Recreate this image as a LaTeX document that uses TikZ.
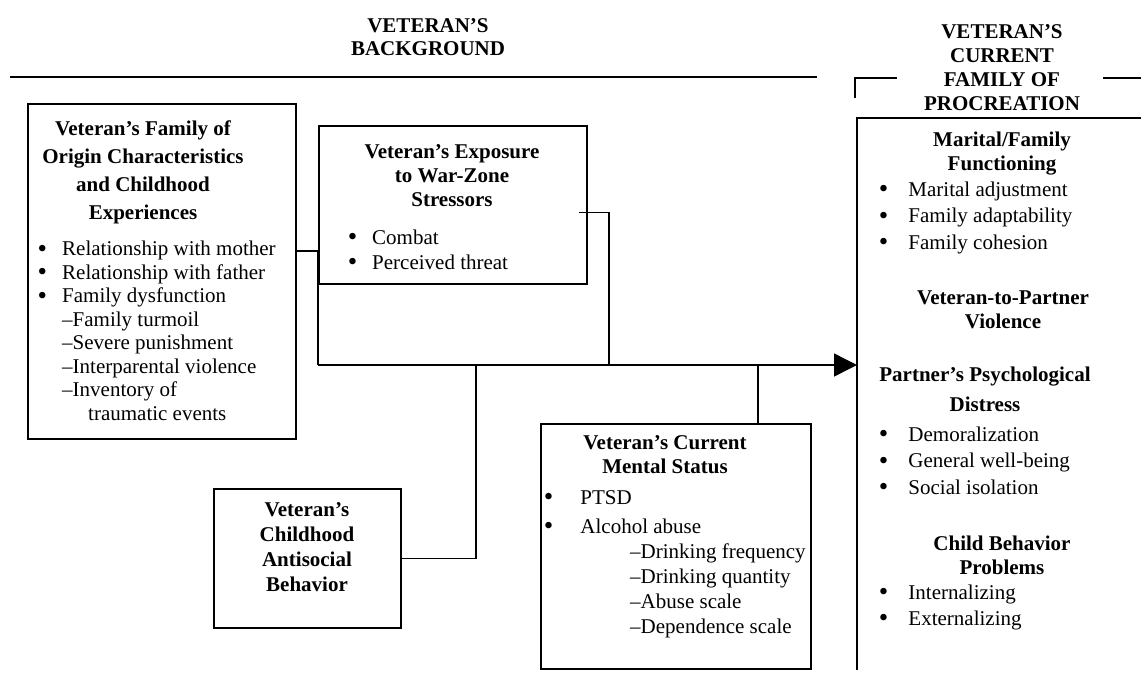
\documentclass[tikz,border=0pt]{standalone}
\usepackage{fontspec}
\setmainfont{Liberation Serif}
\usetikzlibrary{arrows.meta,calc}
\newcommand{\bul}[1][15pt]{\llap{\raisebox{-1.5pt}{\fontsize{27}{27}\selectfont\textbullet}\hspace{#1}}}

\begin{document}
\begin{tikzpicture}[x=1pt, y=-1pt,
    box/.style={draw, line width=1.5pt, inner sep=0pt, anchor=north west},
    ttl/.style={font=\bfseries\fontsize{21}{24}\selectfont, align=center, anchor=base, inner sep=0pt},
    lst/.style={font=\fontsize{21}{24}\selectfont, align=left, anchor=base west, inner sep=0pt},
    link/.style={line width=1.4pt},
    rule/.style={line width=2pt}]
    \useasboundingbox (0,0) rectangle (1141,673);

    % Headings (placed at the baseline of their last line)
    \node[ttl, font=\bfseries\fontsize{21}{23}\selectfont] (bghead) at (428,55) {VETERAN'S\\BACKGROUND};
    \node[ttl, font=\bfseries\fontsize{21}{23.7}\selectfont] (famhead) at (1002,110) {VETERAN'S\\CURRENT\\FAMILY OF\\PROCREATION};
    \draw[rule] (10,77) -- (817,77);
    \draw[rule] (897,78) -- (855,78) -- (855,98);
    \draw[rule] (1103,78) -- (1141,78);

    % Family of origin
    \node[box, minimum width=268pt, minimum height=335pt] (origin) at (27,103) {};
    \node[ttl, font=\bfseries\fontsize{21}{28}\selectfont] (origin-t) at (143,219) {Veteran's Family of\\Origin Characteristics\\and Childhood\\Experiences};
    \node[lst, font=\fontsize{21}{23.5}\selectfont] (origin-l) at (62,420) {\bul Relationship with mother\\\bul Relationship with father\\\bul Family dysfunction\\--Family turmoil\\--Severe punishment\\--Interparental violence\\--Inventory of\\\hspace*{26pt}traumatic events};

    % War-zone exposure
    \node[box, minimum width=268pt, minimum height=158pt] (expo) at (318,125) {};
    \node[ttl] (expo-t) at (452,206) {Veteran's Exposure\\to War-Zone\\Stressors};
    \node[lst, font=\fontsize{21}{25}\selectfont] (expo-l) at (372,269) {\bul Combat\\\bul Perceived threat};

    % Childhood antisocial behavior
    \node[box, minimum width=187pt, minimum height=139pt] (child) at (213,488) {};
    \node[ttl, font=\bfseries\fontsize{21}{25}\selectfont] (child-t) at (307,591) {Veteran's\\Childhood\\Antisocial\\Behavior};

    % Current mental status
    \node[box, minimum width=270pt, minimum height=245pt] (mental) at (540,423) {};
    \node[ttl] (mental-t) at (665,473) {Veteran's Current\\Mental Status};
    \node[lst, font=\fontsize{21}{25}\selectfont] (mental-l) at (575,633) {\bul[22pt] PTSD\\[4pt]\bul[22pt] Alcohol abuse\\\hspace*{55pt}--Drinking frequency\\\hspace*{55pt}--Drinking quantity\\\hspace*{55pt}--Abuse scale\\\hspace*{55pt}--Dependence scale};

    % Current family of procreation
    \node[anchor=north west, minimum width=290pt, minimum height=552pt, inner sep=0pt] (family) at (857,118) {};
    \draw[box] (family.north east) -- (family.north west) -- (family.south west);
    \node[ttl] (fam-t1) at (1002,170) {Marital/Family\\Functioning};
    \node[lst, font=\fontsize{21}{26.5}\selectfont] (fam-l1) at (903,249) {\bul[15pt] Marital adjustment\\\bul[15pt] Family adaptability\\\bul[15pt] Family cohesion};
    \node[ttl] (fam-t2) at (1003,328) {Veteran-to-Partner\\Violence};
    \node[ttl, font=\bfseries\fontsize{21}{30}\selectfont] (fam-t3) at (985,411) {Partner's Psychological\\Distress};
    \node[lst, font=\fontsize{21}{26.5}\selectfont] (fam-l3) at (903,494) {\bul[15pt] Demoralization\\\bul[15pt] General well-being\\\bul[15pt] Social isolation};
    \node[ttl] (fam-t4) at (1002,574) {Child Behavior\\Problems};
    \node[lst, font=\fontsize{21}{26}\selectfont] (fam-l4) at (903,625) {\bul[15pt] Internalizing\\\bul[15pt] Externalizing};

    % Connectors
    \coordinate (bus) at (318,365);
    \coordinate (expojoin) at (609,365);
    \coordinate (childjoin) at (476,365);
    \coordinate (mentjoin) at (758,365);
    \draw[link] ($(origin.north east)!0.44!(origin.south east)$) -| (bus);
    \draw[link] ($(expo.north east)!0.55!(expo.south east) + (-9,0)$) -| (expojoin);
    \draw[link] (child.east) -| (childjoin);
    \draw[link] (mentjoin |- mental.north) -- (mentjoin);
    \draw[link, -{Triangle[length=23pt, width=23pt]}] (bus) -- (bus -| family.west);
\end{tikzpicture}
\end{document}
